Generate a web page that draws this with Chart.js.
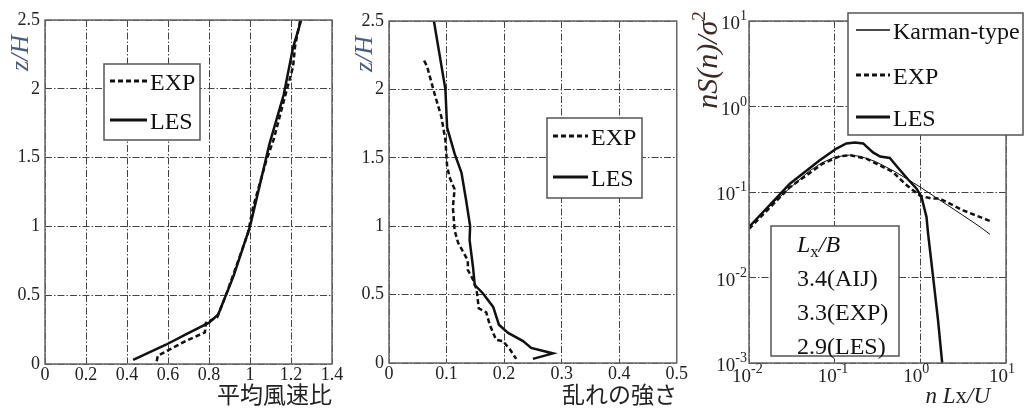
<!DOCTYPE html>
<html lang="ja">
<head>
<meta charset="UTF-8">
<title>平均風速比・乱れの強さ・スペクトル</title>
<script src="https://cdn.jsdelivr.net/npm/chart.js"></script>
<style>
  body { margin: 0; background: #fff; }
  #wrap { position: relative; width: 1024px; height: 409px; overflow: hidden; background: #fff; }
  canvas { position: absolute; top: 0; }
</style>
</head>
<body>
<div id="wrap">
  <canvas id="meanChart" width="344" height="409" style="left:0px"></canvas>
  <canvas id="turbChart" width="343" height="409" style="left:345px"></canvas>
  <canvas id="specChart" width="334" height="409" style="left:690px"></canvas>
</div>
<script>
// --- data ---
// panel 1: mean wind speed ratio vs z/H
const meanExpU = [0.545, 0.55, 0.69, 0.78, 0.785, 0.84, 0.885, 0.945, 0.99, 1.015, 1.08, 1.115, 1.17, 1.21, 1.22, 1.245];
const meanExpZ = [0.02, 0.06, 0.17, 0.23, 0.30, 0.34, 0.51, 0.76, 0.95, 1.14, 1.48, 1.63, 1.94, 2.16, 2.31, 2.5];
const meanLesU = [0.43, 0.59, 0.68, 0.80, 0.845, 0.92, 1.00, 1.035, 1.095, 1.165, 1.21, 1.25];
const meanLesZ = [0.03, 0.14, 0.21, 0.30, 0.36, 0.64, 1.00, 1.22, 1.60, 1.96, 2.30, 2.5];

// panel 2: turbulence intensity vs z/H
const turbExpI = [0.061, 0.066, 0.079, 0.091, 0.098, 0.101, 0.105, 0.114, 0.111, 0.114, 0.12, 0.137, 0.137, 0.146, 0.152, 0.156, 0.169, 0.175, 0.186, 0.198, 0.21, 0.221];
const turbExpZ = [2.21, 2.17, 1.97, 1.80, 1.63, 1.44, 1.36, 1.27, 1.14, 0.97, 0.88, 0.75, 0.68, 0.61, 0.54, 0.40, 0.37, 0.28, 0.17, 0.16, 0.10, 0.03];
const turbLesI = [0.078, 0.098, 0.101, 0.114, 0.126, 0.134, 0.141, 0.140, 0.146, 0.149, 0.163, 0.181, 0.191, 0.207, 0.233, 0.247, 0.285, 0.25];
const turbLesZ = [2.5, 2.0, 1.72, 1.53, 1.39, 1.19, 1.0, 0.9, 0.7, 0.57, 0.51, 0.41, 0.28, 0.22, 0.16, 0.11, 0.07, 0.03];

// panel 3: normalised spectrum vs n Lx/U
const karmanF = [0.01, 0.02, 0.03, 0.05, 0.07, 0.1, 0.15, 0.2, 0.3, 0.5, 0.7, 1, 1.5, 2, 3, 5, 6.5];
const karmanS = [0.040, 0.078, 0.111, 0.174, 0.218, 0.256, 0.271, 0.261, 0.227, 0.174, 0.142, 0.114, 0.087, 0.072, 0.055, 0.039, 0.032];
const expF = [0.01, 0.03, 0.073, 0.115, 0.15, 0.235, 0.336, 0.48, 0.66, 0.82, 1.0, 1.35, 1.67, 3.16, 6.8];
const expS = [0.037, 0.114, 0.215, 0.262, 0.27, 0.245, 0.205, 0.171, 0.125, 0.105, 0.09, 0.084, 0.084, 0.061, 0.045];
const lesF = [0.01, 0.03, 0.067, 0.105, 0.137, 0.172, 0.215, 0.28, 0.34, 0.44, 0.53, 0.72, 0.9, 1.03, 1.18, 1.23, 1.41, 1.61, 1.8];
const lesS = [0.039, 0.125, 0.235, 0.322, 0.37, 0.379, 0.37, 0.29, 0.26, 0.25, 0.20, 0.14, 0.11, 0.088, 0.051, 0.033, 0.0101, 0.00316, 0.001];

// ticks and labels
const zTicks = [0, 0.5, 1, 1.5, 2, 2.5];
const meanTicks = [0, 0.2, 0.4, 0.6, 0.8, 1, 1.2, 1.4];
const turbTicks = [0, 0.1, 0.2, 0.3, 0.4, 0.5];
const decadeXTicks = [0.01, 0.1, 1, 10];
const decadeYTicks = [0.001, 0.01, 0.1, 1, 10];
const profileNames = ['EXP', 'LES'];
const spectrumNames = ['Karman-type', 'EXP', 'LES'];
const scaleNotes = ['3.4(AIJ)', '3.3(EXP)', '2.9(LES)'];

const SERIF = '"Liberation Serif", "Times New Roman", serif';
const JP = '"Noto Sans CJK JP", sans-serif';
const INK = '#111';

const pts = (xs, ys) => xs.map((x, i) => ({ x, y: ys[i] }));

function line(label, xs, ys, width, dash) {
  return {
    label, data: pts(xs, ys), showLine: true, pointRadius: 0, tension: 0,
    borderColor: INK, borderWidth: width, borderDash: dash || [], fill: false
  };
}

function axis(type, min, max, values, size, horizontal, showLabels) {
  return {
    type, min, max,
    afterBuildTicks: s => { s.ticks = values.map(v => ({ value: v })); },
    afterFit: s => { if (horizontal) s.height = size; else s.width = size; },
    grid: { color: '#444', lineWidth: 1, drawTicks: false },
    border: { display: false, dash: [7, 2, 1.5, 2] },
    ticks: {
      display: showLabels, color: '#222', autoSkip: false, maxRotation: 0,
      padding: horizontal ? 0 : 5,
      font: { size: 18, family: SERIF },
      callback: v => String(v)
    }
  };
}

// draws runs of text pieces left to right, returns total width
function runWidth(ctx, parts) {
  let w = 0;
  parts.forEach(p => { ctx.font = p.font; w += ctx.measureText(p.t).width; });
  return w;
}
function drawRun(ctx, x, y, parts) {
  parts.forEach(p => {
    ctx.font = p.font;
    ctx.fillText(p.t, x, y + (p.dy || 0));
    x += ctx.measureText(p.t).width;
  });
  return x;
}

const decor = {
  id: 'decor',
  afterDraw(chart, args, o) {
    const { ctx, chartArea: a } = chart;
    ctx.save();
    ctx.strokeStyle = '#666';
    ctx.lineWidth = 1.5;
    ctx.strokeRect(a.left, a.top, a.right - a.left, a.bottom - a.top);

    ctx.textBaseline = 'alphabetic';
    ctx.textAlign = 'left';

    // y title (rotated)
    if (o.yTitle) {
      const t = o.yTitle;
      ctx.save();
      ctx.fillStyle = t.color;
      ctx.translate(t.x, t.y);
      ctx.rotate(-Math.PI / 2);
      const w = runWidth(ctx, t.parts);
      drawRun(ctx, -w / 2, t.base, t.parts);
      ctx.restore();
    }
    // x title (right aligned)
    if (o.xTitle) {
      const t = o.xTitle;
      ctx.fillStyle = '#222';
      const w = runWidth(ctx, t.parts);
      drawRun(ctx, t.right - w, t.y, t.parts);
    }
    // log tick labels
    if (o.logLabels) {
      const xs = chart.scales.x, ys = chart.scales.y;
      ctx.fillStyle = '#222';
      decadeXTicks.forEach(v => {
        const px = xs.getPixelForValue(v);
        const e = String(Math.round(Math.log10(v)));
        ctx.font = '19px ' + SERIF;
        ctx.textAlign = 'right';
        ctx.fillText('10', px + 2, a.bottom + 19);
        ctx.font = '14px ' + SERIF;
        ctx.textAlign = 'left';
        ctx.fillText(e, px + 2, a.bottom + 10);
      });
      decadeYTicks.forEach(v => {
        const py = ys.getPixelForValue(v);
        const e = String(Math.round(Math.log10(v)));
        ctx.font = '14px ' + SERIF;
        ctx.textAlign = 'right';
        const ew = ctx.measureText(e).width;
        ctx.fillText(e, a.left - 2, py - 1);
        ctx.font = '19px ' + SERIF;
        ctx.fillText('10', a.left - 2 - ew, py + 8);
      });
      ctx.textAlign = 'left';
    }
    // legend box
    if (o.legend) {
      const L = o.legend;
      const [bx, by, bw, bh] = L.box;
      ctx.fillStyle = '#fff';
      ctx.fillRect(bx, by, bw, bh);
      ctx.strokeStyle = '#555';
      ctx.lineWidth = 1.5;
      ctx.strokeRect(bx, by, bw, bh);
      L.rows.forEach((r, i) => {
        const ds = chart.data.datasets[i];
        ctx.strokeStyle = INK;
        ctx.lineWidth = ds.borderWidth + 0.5;
        ctx.setLineDash(ds.borderDash);
        ctx.beginPath();
        ctx.moveTo(L.lineX[0], r);
        ctx.lineTo(L.lineX[1], r);
        ctx.stroke();
        ctx.setLineDash([]);
        ctx.fillStyle = '#111';
        ctx.font = '24px ' + SERIF;
        ctx.textBaseline = 'middle';
        ctx.fillText(ds.label, L.textX, r + 3);
        ctx.textBaseline = 'alphabetic';
      });
    }
    // Lx/B note box
    if (o.note) {
      const N = o.note;
      const [bx, by, bw, bh] = N.box;
      ctx.fillStyle = '#fff';
      ctx.fillRect(bx, by, bw, bh);
      ctx.strokeStyle = '#555';
      ctx.lineWidth = 1.5;
      ctx.strokeRect(bx, by, bw, bh);
      ctx.fillStyle = '#111';
      drawRun(ctx, N.textX, N.rows[0] + 9, [
        { t: 'L', font: 'italic 24px ' + SERIF },
        { t: 'x', font: '17px ' + SERIF, dy: 5 },
        { t: '/B', font: 'italic 24px ' + SERIF }
      ]);
      ctx.font = '24px ' + SERIF;
      scaleNotes.forEach((s, i) => ctx.fillText(s, N.textX, N.rows[i + 1] + 9));
    }
    ctx.restore();
  }
};

function build(id, datasets, xAxis, yAxis, pad, decorOpts) {
  return new Chart(document.getElementById(id), {
    type: 'scatter',
    data: { datasets },
    options: {
      responsive: false,
      animation: false,
      layout: { padding: pad },
      scales: { x: xAxis, y: yAxis },
      plugins: { legend: { display: false }, tooltip: { enabled: false }, decor: decorOpts }
    },
    plugins: [decor]
  });
}

// panel 1
build('meanChart',
  [line(profileNames[0], meanExpU, meanExpZ, 2.5, [5, 3]), line(profileNames[1], meanLesU, meanLesZ, 2.5)],
  axis('linear', 0, 1.4, meanTicks, 45, true, true),
  axis('linear', 0, 2.5, zTicks, 45, false, true),
  { top: 20, right: 12, left: 0, bottom: 0 },
  {
    yTitle: { x: 18.5, y: 53, base: 9, color: '#4a5f80', parts: [{ t: 'z/H', font: 'italic 26px ' + SERIF }] },
    xTitle: { right: 332, y: 403, parts: [{ t: '平均風速比', font: '23px ' + JP }] },
    legend: { box: [104, 64, 96, 76], rows: [81, 120], lineX: [110, 147], textX: 150 }
  });

// panel 2
build('turbChart',
  [line(profileNames[0], turbExpI, turbExpZ, 2.5, [5, 3]), line(profileNames[1], turbLesI, turbLesZ, 2.5)],
  axis('linear', 0, 0.5, turbTicks, 46, true, true),
  axis('linear', 0, 2.5, zTicks, 44, false, true),
  { top: 21, right: 11, left: 0, bottom: 0 },
  {
    yTitle: { x: 18, y: 54, base: 9, color: '#4a5f80', parts: [{ t: 'z/H', font: 'italic 26px ' + SERIF }] },
    xTitle: { right: 332, y: 403, parts: [{ t: '乱れの強さ', font: '23px ' + JP }] },
    legend: { box: [202, 118, 95, 80], rows: [136, 177], lineX: [208, 243], textX: 246 }
  });

// panel 3
build('specChart',
  [line(spectrumNames[0], karmanF, karmanS, 1), line(spectrumNames[1], expF, expS, 2.5, [5, 3]), line(spectrumNames[2], lesF, lesS, 2.5)],
  axis('logarithmic', 0.01, 10, decadeXTicks, 46, true, false),
  axis('logarithmic', 0.001, 10, decadeYTicks, 59, false, false),
  { top: 21, right: 18, left: 0, bottom: 0 },
  {
    logLabels: true,
    yTitle: { x: 17, y: 60, base: 10, color: '#3a2a22', parts: [
      { t: 'nS(n)/σ', font: 'italic 30px ' + SERIF },
      { t: '2', font: '19px ' + SERIF, dy: -12 }
    ] },
    xTitle: { right: 300, y: 403, parts: [
      { t: 'n ', font: 'italic 23px ' + SERIF },
      { t: 'L', font: 'italic 23px ' + SERIF },
      { t: 'x', font: '23px ' + SERIF },
      { t: '/U', font: 'italic 23px ' + SERIF }
    ] },
    legend: { box: [158, 13, 175, 122], rows: [30, 75, 117], lineX: [166, 200], textX: 203 },
    note: { box: [81, 226, 128, 130], textX: 107, rows: [243, 277, 311, 345] }
  });
</script>
</body>
</html>
